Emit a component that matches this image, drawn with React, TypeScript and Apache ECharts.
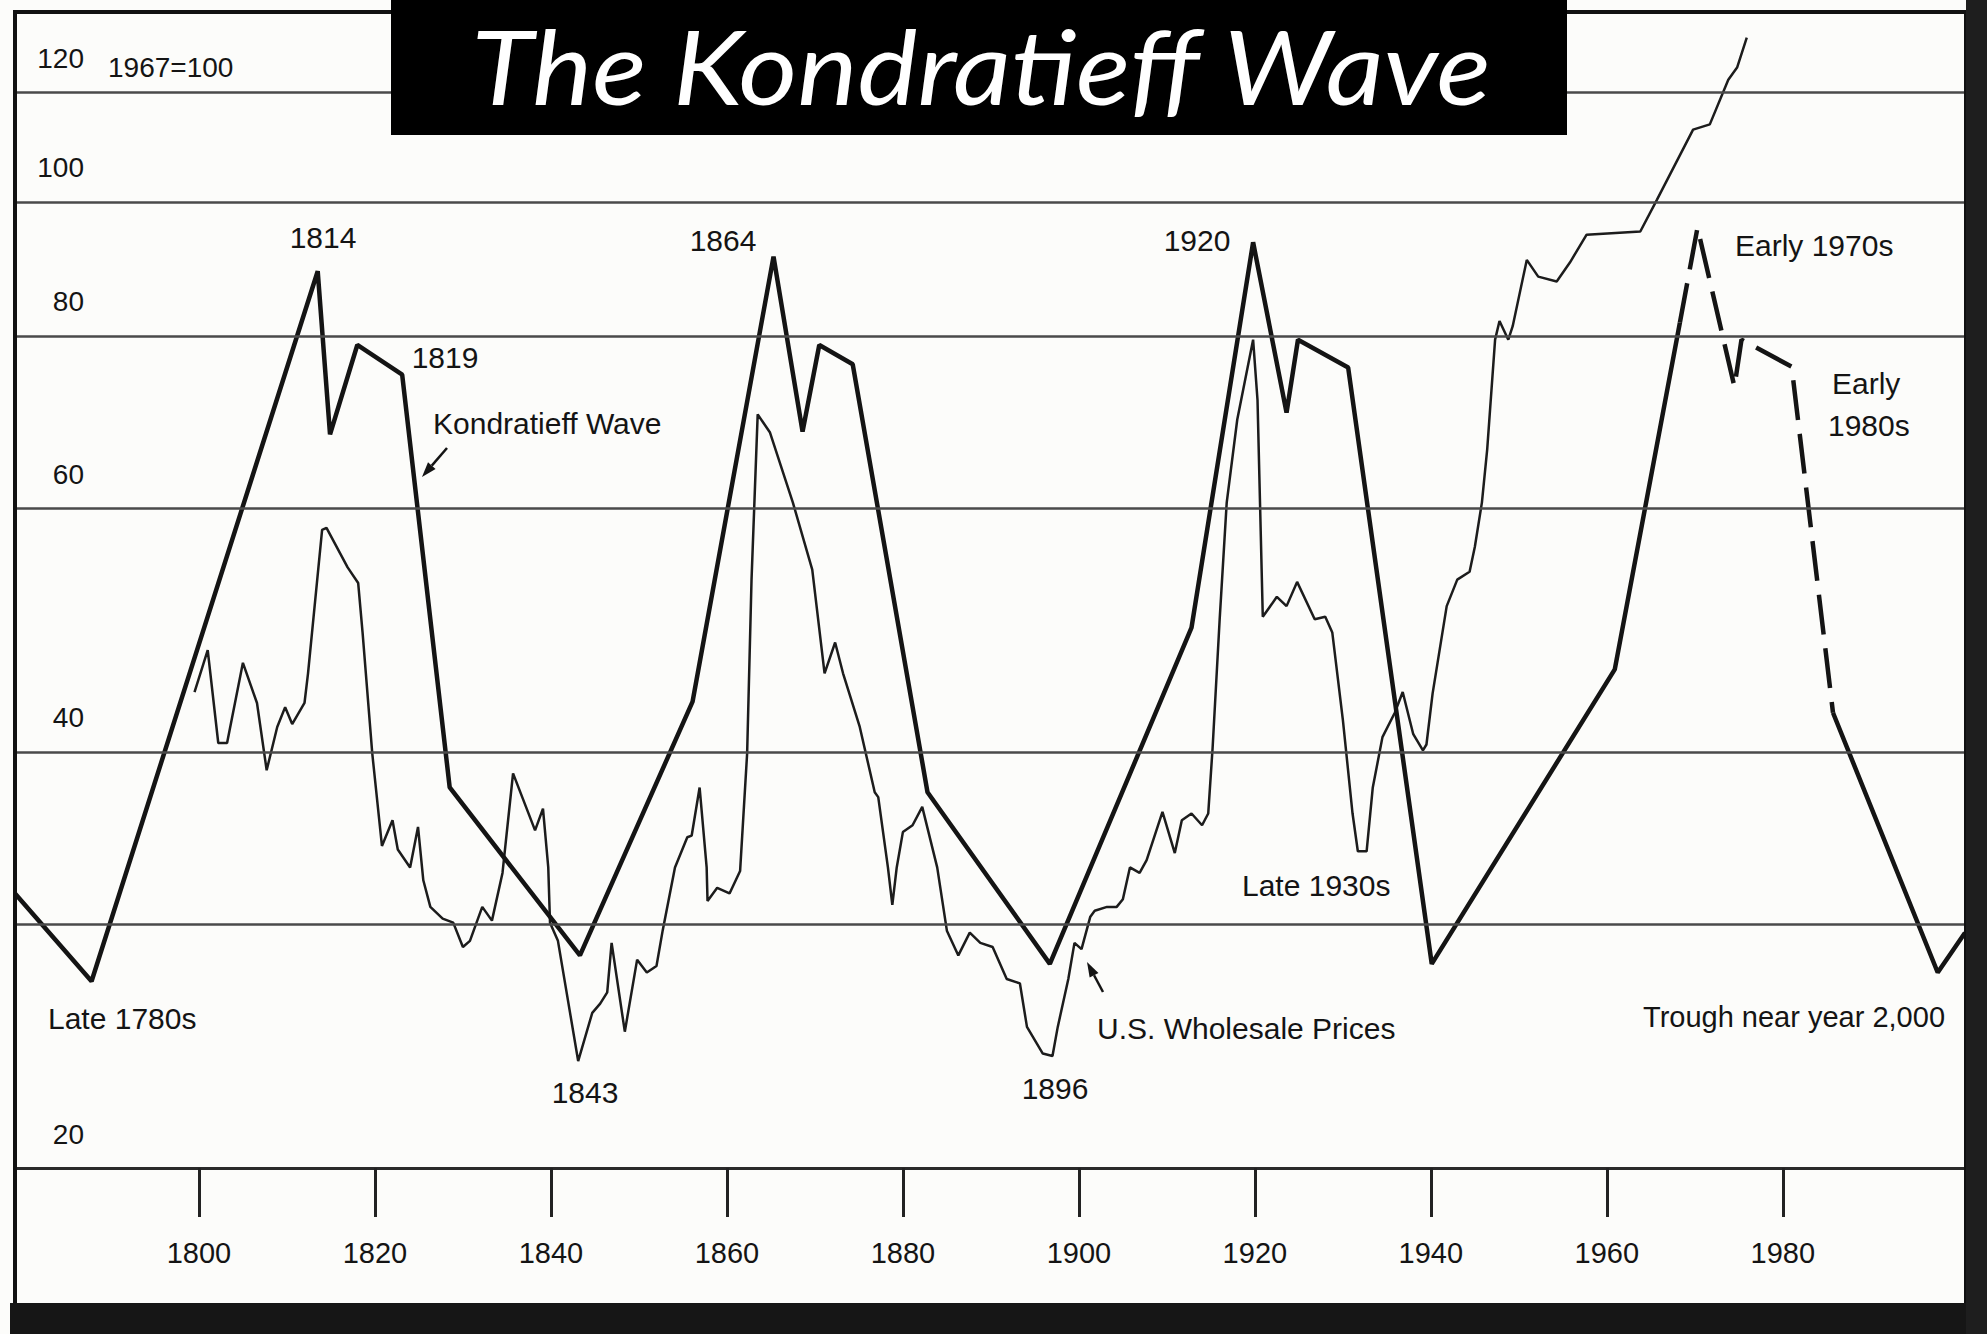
import React, { useEffect, useRef } from "react";
import * as echarts from "echarts";

// ---------------- data ----------------
const waveYears = [1779.1, 1787.8, 1813.5, 1814.9, 1818.0, 1823.1, 1828.5, 1843.3, 1856.1, 1865.3, 1868.6, 1870.5, 1874.3, 1882.8, 1896.7, 1912.8, 1919.8, 1923.6, 1924.9, 1930.6, 1940.1, 1960.9, 1968.3, 1970.3, 1974.5, 1975.3, 1981.0, 1985.7, 1997.6, 2000.7];
const waveValues = [31.6, 27.3, 89.1, 67.9, 78.8, 75.0, 37.7, 28.5, 43.5, 91.3, 68.2, 78.8, 76.3, 37.4, 28.1, 49.2, 93.5, 70.4, 79.5, 75.9, 28.1, 45.9, 81.8, 95.8, 73.5, 79.5, 76.0, 42.7, 27.7, 29.6];
const projectedFrom = 1968.3;
const projectedTo = 1985.7;

const priceYears = [1799.5, 1801.0, 1802.2, 1803.2, 1805.0, 1806.6, 1807.7, 1808.9, 1809.8, 1810.6,
  1812.0, 1812.4, 1814.0, 1814.5, 1816.9, 1818.1, 1818.6, 1819.7, 1820.8, 1822.0,
  1822.6, 1824.0, 1824.9, 1825.5, 1826.3, 1827.7, 1828.9, 1830.0, 1830.8, 1832.2,
  1833.3, 1834.5, 1835.7, 1838.2, 1839.1, 1839.7, 1839.9, 1840.8, 1843.1, 1844.7,
  1845.6, 1846.4, 1846.9, 1848.4, 1849.8, 1850.9, 1852.0, 1852.7, 1854.1, 1855.5,
  1856.0, 1856.9, 1857.7, 1857.8, 1858.9, 1860.3, 1861.5, 1862.3, 1862.8, 1863.5,
  1864.9, 1867.5, 1869.7, 1871.1, 1872.3, 1873.2, 1875.1, 1876.8, 1877.2, 1878.3,
  1878.8, 1879.3, 1880.0, 1881.1, 1882.2, 1883.9, 1885.0, 1886.3, 1887.6, 1888.8,
  1890.2, 1891.8, 1893.3, 1894.1, 1895.9, 1897.0, 1897.6, 1898.8, 1899.5, 1900.3,
  1901.3, 1901.8, 1903.2, 1904.3, 1905.0, 1905.8, 1906.9, 1907.7, 1909.5, 1910.9,
  1911.7, 1912.8, 1914.0, 1914.7, 1915.2, 1916.0, 1916.8, 1918.0, 1919.8, 1920.3,
  1920.9, 1922.5, 1923.6, 1924.8, 1926.8, 1928.0, 1928.8, 1930.0, 1931.1, 1931.7,
  1932.7, 1933.4, 1934.5, 1935.9, 1936.8, 1938.0, 1939.1, 1939.5, 1940.2, 1941.8,
  1943.0, 1944.4, 1945.0, 1945.8, 1946.4, 1947.3, 1947.8, 1948.8, 1949.3, 1950.9,
  1952.2, 1954.3, 1955.8, 1957.7, 1963.8, 1965.7, 1969.8, 1971.7, 1973.8, 1974.8,
  1975.9];
const priceValues = [44.2, 47.4, 40.6, 40.6, 46.4, 43.4, 38.8, 41.7, 43.1, 41.9,
  43.4, 45.6, 57.9, 58.1, 54.4, 53.0, 48.8, 39.9, 34.2, 35.7,
  34.0, 33.0, 35.3, 32.3, 30.9, 30.3, 30.1, 28.9, 29.2, 30.9,
  30.2, 32.7, 38.6, 35.1, 36.4, 33.0, 30.1, 29.2, 23.9, 25.9,
  26.3, 26.8, 29.1, 25.1, 28.3, 27.7, 28.0, 29.7, 33.0, 34.7,
  34.8, 37.7, 33.0, 31.2, 31.9, 31.6, 32.8, 39.9, 53.3, 70.2,
  68.1, 60.6, 54.2, 45.6, 48.0, 45.6, 41.7, 37.4, 37.1, 33.0,
  31.0, 33.0, 35.0, 35.4, 36.5, 33.0, 29.7, 28.5, 29.6, 29.1,
  28.9, 27.4, 27.2, 25.3, 24.2, 24.1, 25.3, 27.4, 29.1, 28.8,
  30.4, 30.7, 30.9, 30.9, 31.3, 33.0, 32.7, 33.4, 36.2, 33.8,
  35.7, 36.1, 35.4, 36.1, 40.3, 49.9, 60.6, 69.6, 79.5, 71.9,
  50.1, 51.8, 51.0, 53.1, 49.9, 50.1, 48.8, 42.2, 36.1, 33.9,
  33.9, 37.7, 41.0, 42.7, 44.2, 41.2, 40.1, 40.5, 44.1, 51.0,
  53.3, 54.0, 56.3, 60.6, 66.2, 79.5, 82.0, 79.5, 81.3, 90.8,
  88.3, 87.6, 90.4, 94.7, 95.2, 100.4, 112.8, 113.8, 122.6, 125.1,
  131.5];

const xTickYears = [1800, 1820, 1840, 1860, 1880, 1900, 1920, 1940, 1960, 1980];
const yGridValues = [30, 40, 60, 80, 100, 120];
const yLabelValues = [20, 40, 60, 80, 100, 120];

const FONT = "'Liberation Sans', Arial, Helvetica, sans-serif";
const INK = "#141414";

export default function App() {
  const ref = useRef<HTMLDivElement>(null);

  useEffect(() => {
    const el = ref.current;
    if (!el) return;
    const chart = echarts.init(el, null, { renderer: "svg" });

    const wavePairs = waveYears.map((y, i) => [y, waveValues[i]]);
    const solidA = wavePairs.filter((p) => p[0] <= projectedFrom);
    const dashed = wavePairs.filter((p) => p[0] >= projectedFrom && p[0] <= projectedTo);
    const solidB = wavePairs.filter((p) => p[0] >= projectedTo);
    const prices = priceYears.map((y, i) => [y, priceValues[i]]);

    const waveStyle = { color: INK, width: 4.5 };

    chart.setOption({
      animation: false,
      backgroundColor: "#fcfcfa",
      grid: { left: 15, right: 22, top: 13, bottom: 166 },
      xAxis: {
        type: "value",
        min: 1779.1,
        max: 2000.7,
        axisLine: { show: true, onZero: false, lineStyle: { color: "#2a2a2a", width: 3 } },
        axisTick: {
          show: true,
          customValues: xTickYears,
          length: 49,
          lineStyle: { color: "#222", width: 3 },
        },
        axisLabel: {
          show: true,
          customValues: xTickYears,
          formatter: (v: number) => String(Math.round(v)),
          margin: 70,
          fontSize: 29,
          fontFamily: FONT,
          color: INK,
        },
        splitLine: { show: false },
      },
      yAxis: {
        type: "log",
        logBase: 10,
        min: 20,
        max: 137,
        axisLine: { show: false },
        axisTick: { show: false },
        axisLabel: { show: false },
        splitLine: { show: false },
      },
      series: [
        {
          name: "U.S. Wholesale Prices",
          type: "line",
          data: prices,
          symbol: "none",
          z: 3,
          lineStyle: { color: "#1c1c1c", width: 2.5 },
          markLine: {
            silent: true,
            symbol: ["none", "none"],
            label: { show: false },
            lineStyle: { color: "#4a4a4a", width: 2.5, type: "solid" },
            data: yGridValues.map((v) => ({ yAxis: v })),
          },
        },
        { name: "Kondratieff Wave", type: "line", data: solidA, symbol: "none", z: 4, lineStyle: waveStyle },
        {
          name: "Kondratieff Wave (projected)",
          type: "line",
          data: dashed,
          symbol: "none",
          z: 4,
          lineStyle: { ...waveStyle, type: [40, 14] },
        },
        { name: "Kondratieff Wave ", type: "line", data: solidB, symbol: "none", z: 4, lineStyle: waveStyle },
      ],
    });

    const txt = (text: string, x: number, y: number, align = "left", size = 30) => ({
      type: "text",
      x,
      y,
      z: 60,
      style: { text, fill: INK, fontSize: size, fontFamily: FONT, align, verticalAlign: "middle" },
    });

    const arrow = (x1: number, y1: number, x2: number, y2: number) => {
      const dx = x2 - x1;
      const dy = y2 - y1;
      const len = Math.sqrt(dx * dx + dy * dy);
      const ux = dx / len;
      const uy = dy / len;
      const hl = 15;
      const hw = 5;
      const bx = x2 - ux * hl;
      const by = y2 - uy * hl;
      return [
        { type: "line", z: 60, shape: { x1, y1, x2: bx, y2: by }, style: { stroke: INK, lineWidth: 2.5 } },
        {
          type: "polygon",
          z: 60,
          shape: { points: [[x2, y2], [bx - uy * hw, by + ux * hw], [bx + uy * hw, by - ux * hw]] },
          style: { fill: INK },
        },
      ];
    };

    const yLabels = yLabelValues.map((v) => {
      const py = chart.convertToPixel({ yAxisIndex: 0 }, v) as number;
      return txt(String(v), 84, py - 34, "right", 28);
    });

    const graphics: any[] = [
      // frame
      { type: "rect", z: 50, shape: { x: 15, y: 12, width: 1951, height: 1293 }, style: { fill: "none", stroke: "#111", lineWidth: 4 } },
      { type: "rect", z: 51, shape: { x: 10, y: 1303, width: 1977, height: 31 }, style: { fill: "#161616" } },
      { type: "rect", z: 51, shape: { x: 1966, y: 0, width: 21, height: 1334 }, style: { fill: "#1e1e1e" } },
      // title
      { type: "rect", z: 70, shape: { x: 391, y: 0, width: 1176, height: 135 }, style: { fill: "#000" } },
      {
        type: "text",
        x: 981,
        y: 65,
        scaleX: 1.1,
        z: 71,
        style: {
          text: "The Kondratieff Wave",
          fill: "#fff",
          fontSize: 103,
          fontFamily: "Lato, 'Open Sans', sans-serif",
          fontStyle: "italic",
          align: "center",
          verticalAlign: "middle",
        },
      },
      ...yLabels,
      txt("1967=100", 108, 67, "left", 28),
      txt("1814", 323, 237, "center"),
      txt("1819", 445, 357, "center"),
      txt("Kondratieff Wave", 433, 423, "left"),
      txt("1864", 723, 240, "center"),
      txt("1920", 1197, 240, "center"),
      txt("Early 1970s", 1735, 245, "left"),
      txt("Early", 1832, 383, "left"),
      txt("1980s", 1828, 425, "left"),
      txt("Late 1780s", 48, 1018, "left"),
      txt("1843", 585, 1092, "center"),
      txt("1896", 1055, 1088, "center"),
      txt("U.S. Wholesale Prices", 1097, 1028, "left"),
      txt("Late 1930s", 1242, 885, "left"),
      txt("Trough near year 2,000", 1643, 1017, "left", 29),
      ...arrow(447, 448, 422, 477),
      ...arrow(1103, 992, 1087, 962),
    ];

    chart.setOption({ graphic: graphics });

    return () => chart.dispose();
  }, []);

  return (
    <div
      ref={ref}
      style={{ position: "fixed", left: 0, top: 0, width: 1987, height: 1334, background: "#fcfcfa" }}
    />
  );
}
